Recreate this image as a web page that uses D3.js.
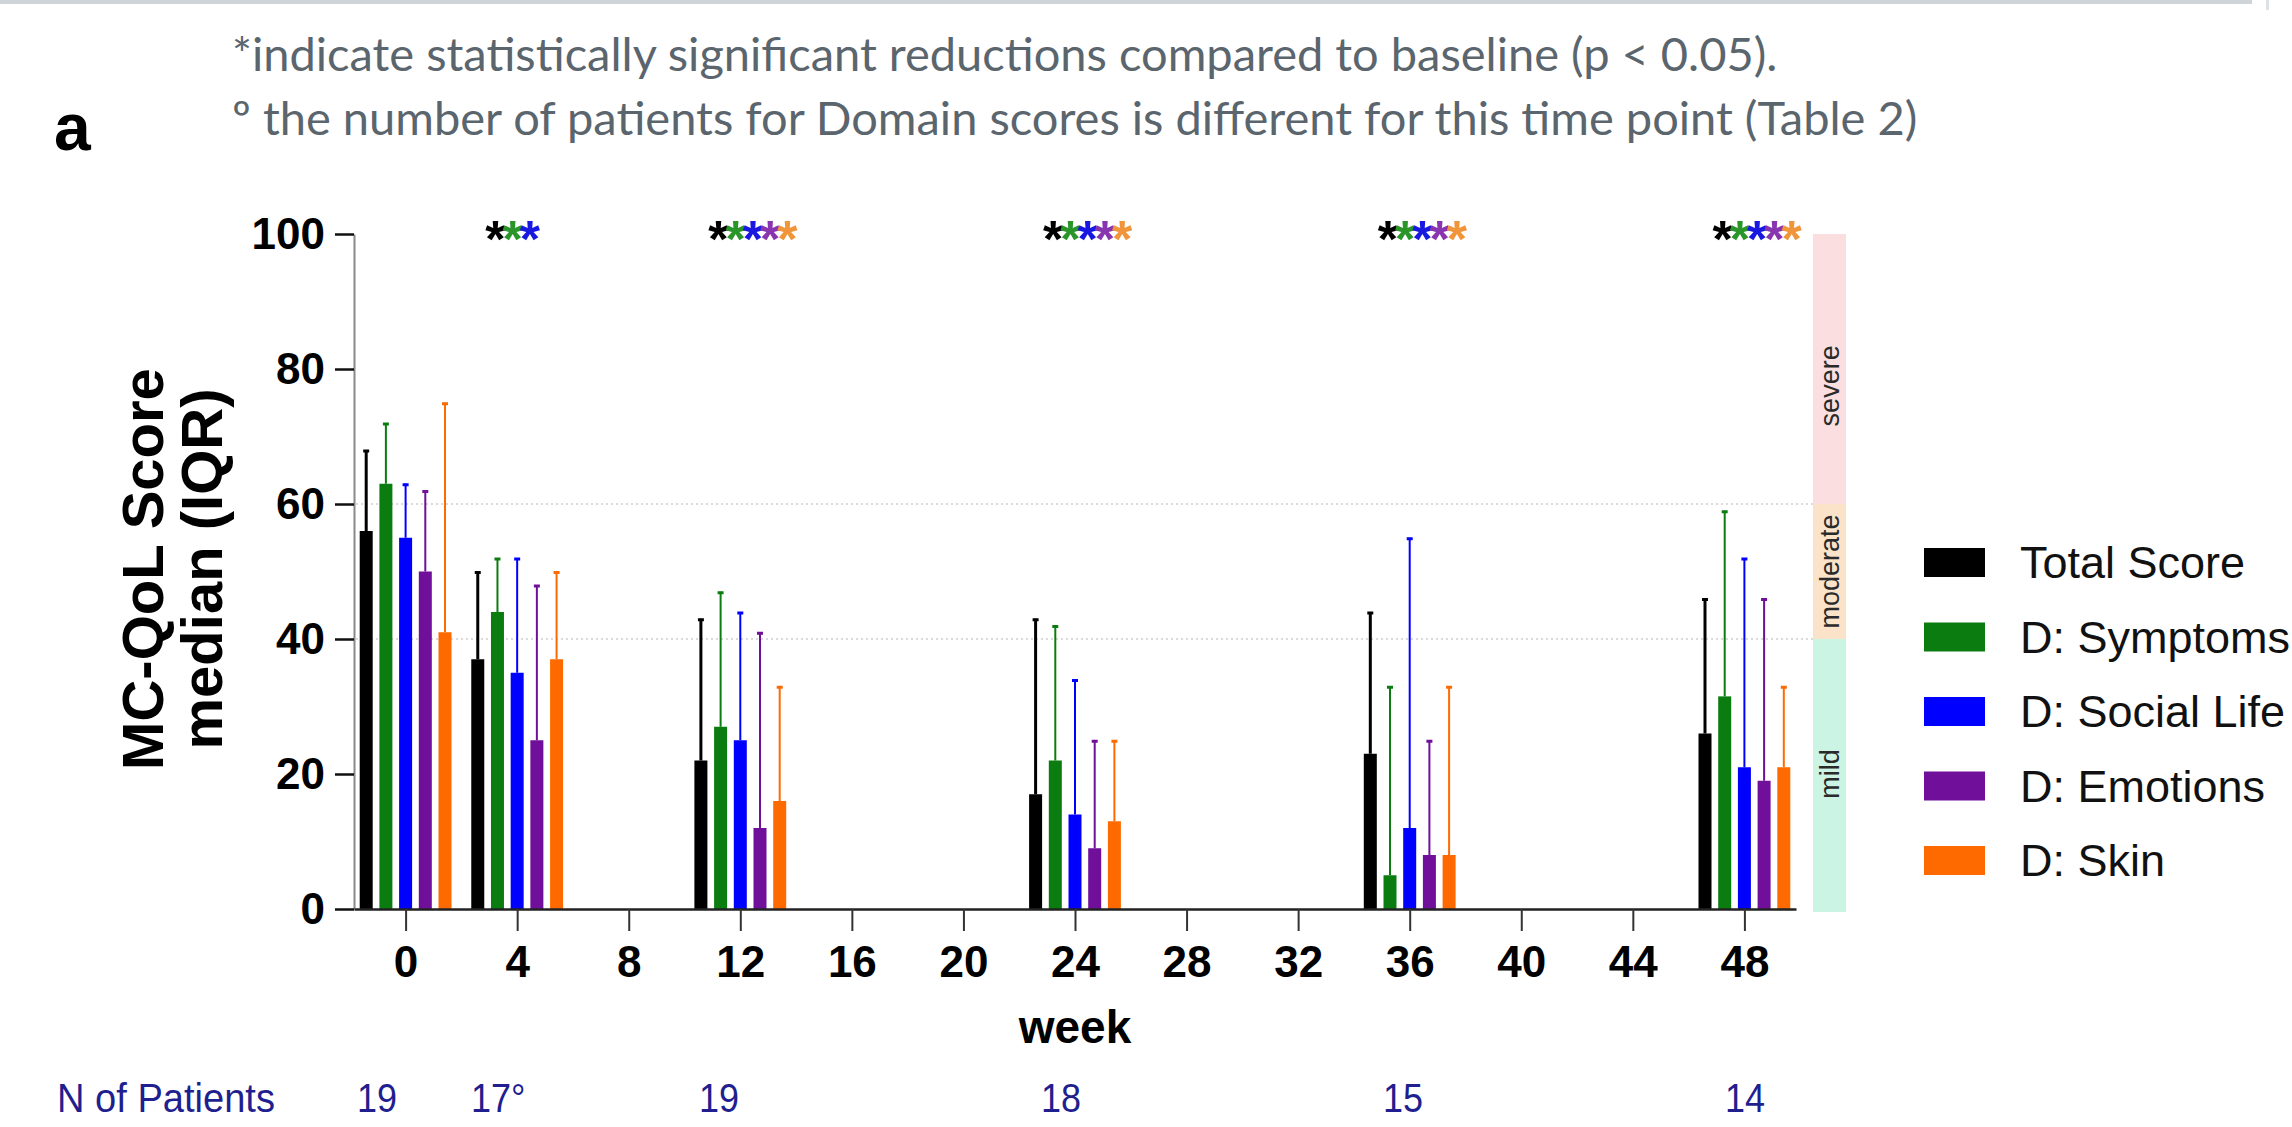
<!DOCTYPE html>
<html>

<head>
  <meta charset="utf-8">
  <title>MC-QoL score</title>
  <script src="https://cdn.jsdelivr.net/npm/d3@7"></script>
  <style>
    body { margin: 0; background: #fff; }
    svg { display: block; }
    .ax text { font-family: "Liberation Sans", Arial, sans-serif; font-weight: bold; fill: #000; }
  </style>
</head>

<body>
  <script>
    // Data
    const weeks = [0, 4, 12, 24, 36, 48];
    const series = ["Total Score", "D: Symptoms", "D: Social Life", "D: Emotions", "D: Skin"];
    const colors = ["#000000", "#0b7d10", "#0000ff", "#6f0f9a", "#ff6a00"];
    const starColors = ["#000000", "#2a962a", "#1818e0", "#8a35b0", "#f0953a"];

    // median per series, one value per week
    const median = [
      [56, 37, 22, 17, 23, 26],
      [63, 44, 27, 22, 5, 31.5],
      [55, 35, 25, 14, 12, 21],
      [50, 25, 12, 9, 8, 19],
      [41, 37, 16, 13, 8, 21]
    ];
    // upper end of the IQR whisker
    const upper = [
      [68, 50, 43, 43, 44, 46],
      [72, 52, 47, 42, 33, 59],
      [63, 52, 44, 34, 55, 52],
      [62, 48, 41, 25, 25, 46],
      [75, 50, 33, 25, 33, 33]
    ];
    const starsPerWeek = [0, 3, 5, 5, 5, 5];
    const nPatients = ["19", "17°", "19", "18", "15", "14"];
    const yTicks = [0, 20, 40, 60, 80, 100];
    const xTicks = [0, 4, 8, 12, 16, 20, 24, 28, 32, 36, 40, 44, 48];
    const bandNames = ["mild", "moderate", "severe"];
    const bandFrom = [0, 40, 60];
    const bandTo = [40, 60, 100];
    const bandColors = ["#cbf4e5", "#fbe3c9", "#fbdfe0"];
    const refLines = [40, 60];
    const notes = [
      "*indicate statistically significant reductions compared to baseline (p < 0.05).",
      "\u00ba the number of patients for Domain scores is different for this time point (Table 2)"
    ];

    const W = 2292, H = 1127;
    const font = '"Liberation Sans", Arial, sans-serif';

    const svg = d3.select("body").append("svg")
      .attr("width", W)
      .attr("height", H);

    // thin grey strip along the top
    svg.append("rect").attr("x", 0).attr("y", 0).attr("width", 2252).attr("height", 4).attr("fill", "#cfd4d9");
    svg.append("rect").attr("x", 2266).attr("y", 0).attr("width", 3).attr("height", 10).attr("fill", "#dde1e4");

    // Skalaer
    const x = d3.scaleLinear().domain([-1.85, 49.85]).range([354, 1796]);
    const y = d3.scaleLinear().domain([0, 100]).range([909, 234]);
    const sub = d3.scalePoint().domain(series).range([-39.4, 39.4]);
    const nScale = d3.scaleLinear().domain([0, 48]).range([377, 1745]);
    const barW = 13;

    // notes + panel letter
    svg.append("text")
      .attr("x", 54).attr("y", 150)
      .attr("font-family", font).attr("font-weight", "bold").attr("font-size", 66)
      .text("a");

    svg.selectAll("text.note")
      .data(notes)
      .enter()
      .append("text")
      .attr("class", "note")
      .attr("x", 232)
      .attr("y", function (d, i) { return 71 + i * 64; })
      .attr("font-family", "Lato, 'Open Sans', sans-serif")
      .attr("font-size", 47)
      .attr("fill", "#5b656d")
      .text(function (d) { return d; });

    // severity bands on the right
    const bandX = 1813, bandW = 33;
    bandNames.forEach(function (name, i) {
      svg.append("rect")
        .attr("x", bandX)
        .attr("y", y(bandTo[i]))
        .attr("width", bandW)
        .attr("height", y(bandFrom[i]) - y(bandTo[i]) + (i === 0 ? 3 : 0))
        .attr("fill", bandColors[i]);
    });
    // label anchor: severe label sits a little above the middle of its band
    const bandLabelAt = [20, 50, 77.5];
    bandNames.forEach(function (name, i) {
      svg.append("text")
        .attr("transform", "translate(" + (bandX + bandW / 2) + "," + y(bandLabelAt[i]) + ") rotate(-90)")
        .attr("text-anchor", "middle")
        .attr("dominant-baseline", "central")
        .attr("font-family", font)
        .attr("font-size", 27)
        .attr("fill", "#2a2a2a")
        .text(name);
    });

    // dotted reference lines
    svg.selectAll("line.ref")
      .data(refLines)
      .enter()
      .append("line")
      .attr("x1", 356).attr("x2", bandX)
      .attr("y1", function (d) { return y(d); })
      .attr("y2", function (d) { return y(d); })
      .attr("stroke", "#cfcfcf")
      .attr("stroke-width", 1.5)
      .attr("stroke-dasharray", "2,3");

    // Bars + whiskers
    series.forEach(function (s, si) {
      const g = svg.append("g");
      g.selectAll("rect")
        .data(weeks)
        .enter()
        .append("rect")
        .attr("x", function (w) { return x(w) + sub(s) - barW / 2; })
        .attr("y", function (w, i) { return y(median[si][i]); })
        .attr("width", barW)
        .attr("height", function (w, i) { return y(0) - y(median[si][i]); })
        .attr("fill", colors[si]);

      g.selectAll("line.wh")
        .data(weeks)
        .enter()
        .append("line")
        .attr("class", "wh")
        .attr("x1", function (w) { return x(w) + sub(s); })
        .attr("x2", function (w) { return x(w) + sub(s); })
        .attr("y1", function (w, i) { return y(median[si][i]); })
        .attr("y2", function (w, i) { return y(upper[si][i]); })
        .attr("stroke", colors[si])
        .attr("stroke-width", si === 0 ? 3 : 2);

      g.selectAll("line.cap")
        .data(weeks)
        .enter()
        .append("line")
        .attr("class", "cap")
        .attr("x1", function (w) { return x(w) + sub(s) - 3; })
        .attr("x2", function (w) { return x(w) + sub(s) + 3; })
        .attr("y1", function (w, i) { return y(upper[si][i]) + 1; })
        .attr("y2", function (w, i) { return y(upper[si][i]) + 1; })
        .attr("stroke", colors[si])
        .attr("stroke-width", 3);
    });

    // significance stars
    weeks.forEach(function (w, i) {
      if (starsPerWeek[i] === 0) return;
      const t = svg.append("text")
        .attr("x", x(w) - 32)
        .attr("y", 257)
        .attr("font-family", font)
        .attr("font-weight", "bold")
        .attr("font-size", 52)
        .attr("letter-spacing", -3);
      d3.range(starsPerWeek[i]).forEach(function (k) {
        t.append("tspan").attr("fill", starColors[k]).text("*");
      });
    });

    // Y-akse
    const yAxis = svg.append("g")
      .attr("class", "ax")
      .attr("transform", "translate(354,0)")
      .call(d3.axisLeft(y).tickValues(yTicks).tickSize(19).tickSizeOuter(0).tickPadding(10));
    yAxis.select(".domain").attr("stroke", "#8a8a8a").attr("stroke-width", 2);
    yAxis.selectAll(".tick line").attr("stroke", "#111").attr("stroke-width", 2.5);
    yAxis.selectAll(".tick text").attr("font-size", 44);

    // X-akse
    const xAxis = svg.append("g")
      .attr("class", "ax")
      .attr("transform", "translate(0," + y(0) + ")")
      .call(d3.axisBottom(x).tickValues(xTicks).tickSize(22).tickSizeOuter(0).tickPadding(15));
    xAxis.select(".domain").attr("stroke", "#222").attr("stroke-width", 2.5);
    xAxis.selectAll(".tick line").attr("stroke", "#333").attr("stroke-width", 2);
    xAxis.selectAll(".tick text").attr("font-size", 44);

    // axis titles
    svg.append("text")
      .attr("x", 1075).attr("y", 1043)
      .attr("text-anchor", "middle")
      .attr("font-family", font).attr("font-weight", "bold").attr("font-size", 46)
      .text("week");

    const yTitle = svg.append("text")
      .attr("transform", "translate(143,569) rotate(-90)")
      .attr("text-anchor", "middle")
      .attr("font-family", font).attr("font-weight", "bold").attr("font-size", 58);
    yTitle.append("tspan").attr("x", 0).attr("dy", "0.35em").text("MC-QoL Score");
    yTitle.append("tspan").attr("x", 0).attr("dy", "1.02em").text("median (IQR)");

    // legend
    const leg = svg.append("g");
    series.forEach(function (s, i) {
      const ly = 548 + i * 74.5;
      leg.append("rect")
        .attr("x", 1924).attr("y", ly)
        .attr("width", 61).attr("height", 29)
        .attr("fill", colors[i]);
      leg.append("text")
        .attr("x", 2020).attr("y", ly + 14.5)
        .attr("dominant-baseline", "central")
        .attr("font-family", font).attr("font-size", 45).attr("fill", "#111")
        .text(s);
    });

    // N of patients row
    svg.append("text")
      .attr("x", 57).attr("y", 1112)
      .attr("font-family", font).attr("font-size", 40).attr("fill", "#1f1f8f")
      .attr("textLength", 218).attr("lengthAdjust", "spacingAndGlyphs")
      .text("N of Patients");
    svg.selectAll("text.n")
      .data(nPatients)
      .enter()
      .append("text")
      .attr("class", "n")
      .attr("x", function (d, i) { return nScale(weeks[i]) - 20; })
      .attr("y", 1112)
      .attr("font-family", font).attr("font-size", 40).attr("fill", "#1f1f8f")
      .attr("transform", function (d, i) {
        const cx = nScale(weeks[i]) - 20;
        return "translate(" + cx + ",0) scale(0.9,1) translate(" + (-cx) + ",0)";
      })
      .text(function (d) { return d; });
  </script>
</body>

</html>
